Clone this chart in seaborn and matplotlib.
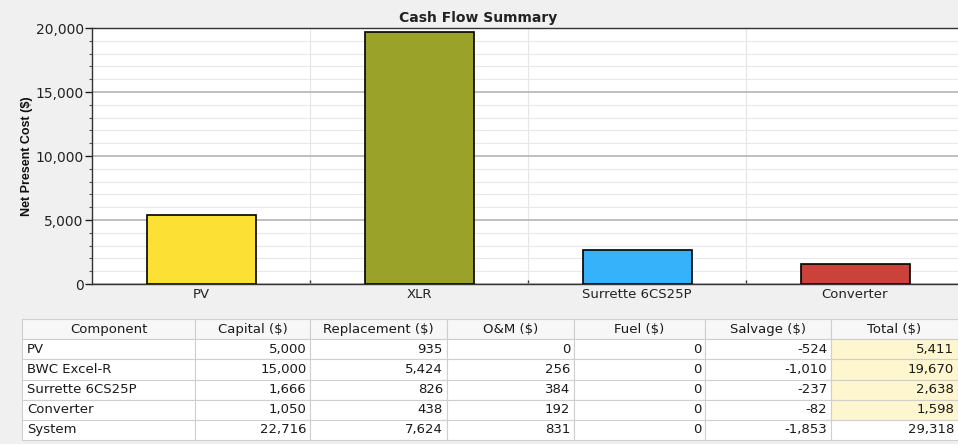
import matplotlib
matplotlib.use("Agg")
import matplotlib.pyplot as plt
import seaborn as sns
import pandas as pd
from matplotlib.ticker import MultipleLocator, FuncFormatter

# bar chart data
bar_labels = ["PV", "XLR", "Surrette 6CS25P", "Converter"]
bar_values = [5411, 19670, 2638, 1598]
bar_colors = ["#fde034", "#9ba22a", "#36b2fb", "#c9433a"]

# table data
col_labels = ["Component", "Capital ($)", "Replacement ($)", "O&M ($)",
              "Fuel ($)", "Salvage ($)", "Total ($)"]
components = ["PV", "BWC Excel-R", "Surrette 6CS25P", "Converter", "System"]
capital = [5000, 15000, 1666, 1050, 22716]
replacement = [935, 5424, 826, 438, 7624]
om = [0, 256, 384, 192, 831]
fuel = [0, 0, 0, 0, 0]
salvage = [-524, -1010, -237, -82, -1853]
total = [5411, 19670, 2638, 1598, 29318]

sns.set_theme(style="white")
plt.rcParams["font.family"] = ["DejaVu Sans"]

W, H = 958, 444
fig = plt.figure(figsize=(W / 100, H / 100), dpi=100)
fig.patch.set_facecolor("#f0f0f0")

# ---- chart
ax = fig.add_axes([92 / W, 1 - 284 / H, (958 - 92) / W, (284 - 28) / H])
ax.set_facecolor("white")
df = pd.DataFrame({"label": bar_labels, "value": bar_values})
sns.barplot(data=df, x="label", y="value", hue="label", palette=bar_colors,
            legend=False, width=0.5, edgecolor="black", linewidth=1.2,
            saturation=1, ax=ax, zorder=3)

ax.set_ylim(0, 20000)
ax.set_xlim(-0.5, -0.5 + (958 - 92) / 218)
ax.yaxis.set_major_locator(MultipleLocator(5000))
ax.yaxis.set_minor_locator(MultipleLocator(1000))
ax.yaxis.set_major_formatter(FuncFormatter(lambda v, p: f"{v:,.0f}"))
ax.grid(which="minor", axis="y", color="#e8e8e8", linewidth=0.8, zorder=0)
ax.grid(which="major", axis="y", color="#b4b4b4", linewidth=1.2, zorder=1)
for b in [0.5, 1.5, 2.5]:
    ax.axvline(b, color="#e6e6e6", linewidth=0.8, zorder=0)

ax.tick_params(axis="y", which="major", length=5, width=1, direction="out",
               left=True, labelsize=10, pad=1, colors="#222222")
ax.tick_params(axis="y", which="minor", length=2.5, width=0.8, direction="out",
               left=True, colors="#555555")
ax.tick_params(axis="x", length=0, labelsize=9.5, pad=3, labelcolor="#222222")
for s in ["top", "bottom", "left"]:
    ax.spines[s].set_color("#333333")
    ax.spines[s].set_linewidth(1)
ax.spines["right"].set_visible(False)
# small ticks at category boundaries
ax_b = ax.secondary_xaxis("bottom")
ax_b.set_xticks([0.5, 1.5, 2.5])
ax_b.set_xticklabels([])
ax_b.tick_params(length=3, width=1, direction="in", colors="#333333")
ax_b.spines["bottom"].set_visible(False)

ax.set_xlabel("")
ax.set_ylabel("Net Present Cost ($)", fontsize=9, fontweight="bold", labelpad=2,
              family="Liberation Sans", color="#111111")
fig.text(478 / W, 1 - 18 / H, "Cash Flow Summary", ha="center", va="center",
         fontsize=10, fontweight="bold", color="#222222")

# ---- table
tax = fig.add_axes([22 / W, 1 - 440 / H, (958 - 22) / W, (440 - 319) / H])
tax.axis("off")


def fmt(v):
    return f"{v:,}"


rows = []
for i in range(len(components)):
    rows.append([components[i], fmt(capital[i]), fmt(replacement[i]), fmt(om[i]),
                 fmt(fuel[i]), fmt(salvage[i]), fmt(total[i])])

widths = [173, 115, 137, 127, 131, 126, 127]
widths = [w / sum(widths) for w in widths]
tbl = tax.table(cellText=rows, colLabels=col_labels, colWidths=widths,
                bbox=[0, 0, 1, 1], cellLoc="right")
tbl.auto_set_font_size(False)
for (r, c), cell in tbl.get_celld().items():
    cell.set_edgecolor("#cfcfcf")
    cell.set_linewidth(0.8)
    cell.get_text().set_fontsize(9.5)
    cell.get_text().set_color("#1a1a1a")
    cell.PAD = 0.03
    if r == 0:
        cell.set_facecolor("#f7f7f7")
        cell.get_text().set_ha("center")
        cell._loc = "center"
    else:
        cell.set_facecolor("white")
        if c == 0:
            cell._loc = "left"
            cell.get_text().set_ha("left")
        if c == 6 and r <= 4:
            cell.set_facecolor("#fdf6cf")

fig.savefig("out.png", dpi=100, facecolor=fig.get_facecolor())
